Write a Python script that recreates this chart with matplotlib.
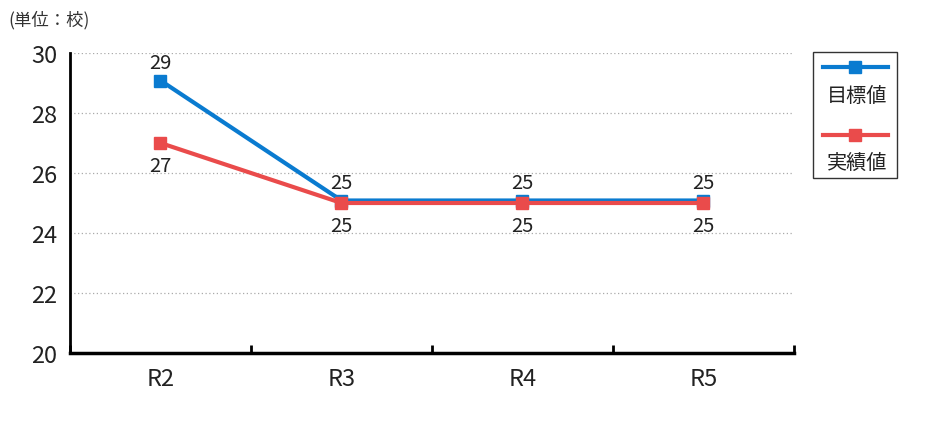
import numpy as np
import matplotlib.pyplot as plt
import matplotlib.transforms as mtransforms
from matplotlib.lines import Line2D
from matplotlib.patches import Rectangle

plt.rcParams['font.family'] = ['Noto Sans CJK JP', 'DejaVu Sans']

# 年度別の学校数
years = ['R2', 'R3', 'R4', 'R5']
target = [29, 25, 25, 25]   # 目標値
actual = [27, 25, 25, 25]   # 実績値
yticks = [20, 22, 24, 26, 28, 30]

blue = '#0a7bd0'
red = '#ea4b4b'
txt = '#222222'

fig = plt.figure(figsize=(9.28, 4.35), dpi=100)
ax = fig.add_axes([70 / 928, 81 / 435, 724 / 928, 300 / 435])

x = np.arange(len(years))
# 同じ値のとき重ならないよう目標値の線を少し上にずらす
shift = mtransforms.ScaledTranslation(0, 2.5 / 100, fig.dpi_scale_trans)
ax.plot(x, target, color=blue, lw=3, marker='s', ms=9, zorder=3,
        transform=ax.transData + shift)
ax.plot(x, actual, color=red, lw=3, marker='s', ms=9, zorder=4)

for xi, v in zip(x, target):
    ax.annotate(f'{v}', (xi, v), xytext=(0, 15), textcoords='offset points',
                ha='center', va='center', fontsize=14.5, color=txt)
for xi, v in zip(x, actual):
    ax.annotate(f'{v}', (xi, v), xytext=(0, -16), textcoords='offset points',
                ha='center', va='center', fontsize=14.5, color=txt)

ax.set_xlim(-0.5, len(years) - 0.5)
ax.set_ylim(20, 30)
ax.set_yticks(yticks)
ax.set_yticklabels([str(t) for t in yticks], fontsize=17, color=txt)
ax.set_xticks(x)
ax.set_xticklabels(years, fontsize=17, color=txt)
ax.tick_params(axis='y', which='major', length=0, pad=9)
ax.tick_params(axis='x', which='major', length=0, pad=10)
ax.set_xticks(np.arange(len(years) + 1) - 0.5, minor=True)
ax.tick_params(axis='x', which='minor', direction='in', length=6, width=2,
               color='black')

ax.grid(axis='y', linestyle=(0, (1, 2)), color='#aaaaaa', lw=0.9)
ax.set_axisbelow(True)
for side in ['top', 'right']:
    ax.spines[side].set_visible(False)
ax.spines['left'].set_linewidth(2)
ax.spines['bottom'].set_linewidth(2.5)

fig.text(8 / 928, 1 - 20 / 435, '(単位：校)', fontsize=12.5, va='center',
         color='#333333')

# 凡例
fig.patches.append(Rectangle((813 / 928, 1 - 179 / 435), 84 / 928, 126 / 435,
                             transform=fig.transFigure, fill=False,
                             edgecolor='#333333', lw=1))
for y_line, y_text, col, name in [(68, 96, blue, '目標値'), (136, 163, red, '実績値')]:
    fig.lines.append(Line2D([823 / 928, 888 / 928], [1 - y_line / 435] * 2,
                            transform=fig.transFigure, color=col, lw=3))
    fig.lines.append(Line2D([855.5 / 928], [1 - y_line / 435],
                            transform=fig.transFigure, color=col,
                            marker='s', ms=9, lw=0))
    fig.text(857 / 928, 1 - y_text / 435, name, fontsize=14.5, ha='center',
             va='center', color=txt)

fig.savefig('out.png', dpi=100)
